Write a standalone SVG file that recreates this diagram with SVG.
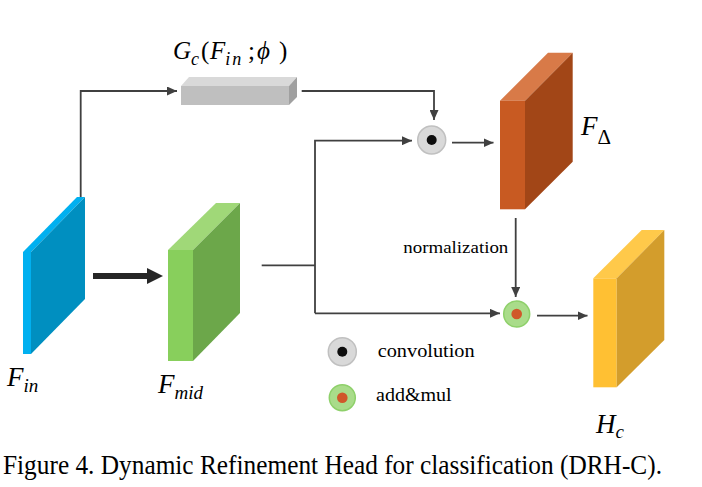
<svg xmlns="http://www.w3.org/2000/svg" width="702" height="487" viewBox="0 0 702 487">
<style>
.c{fill:none;stroke:#404040;stroke-width:1.8}
.a{marker-end:url(#ah)}
.m{font-family:"Liberation Serif",serif;font-style:italic;fill:#000}
.u{font-family:"Liberation Serif",serif;fill:#000}
</style>
<defs>
<marker id="ah" viewBox="0 0 10 9" refX="10" refY="4.5" markerUnits="userSpaceOnUse" markerWidth="10" markerHeight="9" orient="auto">
<path d="M0,0 L10,4.5 L0,9 z" fill="#404040"/>
</marker>
</defs>
<rect width="702" height="487" fill="#fff"/>

<g id="connectors">
<path class="c a" d="M80.7,197 V91 H177"/>
<path class="c a" d="M301.7,91 H434 V120"/>
<path class="c" d="M261.7,265.3 H315"/>
<path class="c a" d="M315,313.3 V140.7 H412"/>
<path class="c a" d="M315,313.3 H500"/>
<path class="c a" d="M452,142.7 H493.5"/>
<path class="c a" d="M515.7,218 V297"/>
<path class="c a" d="M537,315.7 H587.5"/>
<line x1="93" y1="276" x2="150" y2="276" stroke="#262626" stroke-width="6"/>
<polygon points="147,268 163,276 147,284" fill="#262626"/>
</g>

<g id="F_in">
<polygon points="23,252 77,197 85,197 31,252" fill="#00B0F0"/>
<rect x="23" y="252" width="8" height="102" fill="#00B0F0"/>
<polygon points="31,252 85,197 85,299 31,354" fill="#008FC0"/>
<text class="m" x="7" y="386" font-size="27">F<tspan font-size="19" dy="6">in</tspan></text>
</g>

<g id="F_mid">
<polygon points="168,250 216,203 240,203 193,250" fill="#A0D878"/>
<rect x="168" y="250" width="25" height="111" fill="#88CF5C"/>
<polygon points="193,250 240,203 240,313 193,361" fill="#6CA74A"/>
<text class="m" x="158" y="393" font-size="27">F<tspan font-size="19" dy="6">mid</tspan></text>
</g>

<g id="G_c">
<polygon points="181,86 189,77 297,77 289,86" fill="#D9D9D9"/>
<rect x="181" y="86" width="108" height="19" fill="#BFBFBF"/>
<polygon points="289,86 297,77 297,97 289,105" fill="#A0A0A0"/>
<text class="m" x="173" y="59" font-size="25">G<tspan font-size="18" dy="6">c</tspan><tspan font-style="normal" font-size="25" dy="-6" x="201">(</tspan><tspan x="210">F</tspan><tspan font-size="18" dy="6" letter-spacing="2">in</tspan><tspan font-style="normal" font-size="25" dy="-6" x="248">;</tspan><tspan x="257">ϕ</tspan><tspan font-style="normal" x="279">)</tspan></text>
</g>

<g id="conv">
<circle cx="431.7" cy="140" r="14" fill="#D9D9D9" stroke="#C0C0C0" stroke-width="1.5"/>
<circle cx="431.7" cy="140" r="5" fill="#0D0D0D"/>
</g>

<g id="F_delta">
<polygon points="500,100.7 548,52.7 572.7,52.7 525,100.7" fill="#D87A48"/>
<rect x="500" y="100.7" width="25" height="108.6" fill="#C85A22"/>
<polygon points="525,100.7 572.7,52.7 572.7,161.7 525,209.3" fill="#A24617"/>
<text class="m" x="581" y="135" font-size="27">F<tspan class="u" font-style="normal" font-size="21" dy="9">Δ</tspan></text>
</g>

<g id="normalization_label">
<text class="u" x="403.3" y="253" font-size="17" textLength="105" lengthAdjust="spacingAndGlyphs">normalization</text>
</g>

<g id="addmul">
<circle cx="516.7" cy="314" r="13" fill="#A9DC8A" stroke="#8ED06A" stroke-width="1.5"/>
<circle cx="516.7" cy="314" r="5.3" fill="#D0582A"/>
</g>

<g id="H_c">
<polygon points="593.3,278.3 641.7,230 664.3,230 616.7,278.3" fill="#FFC94A"/>
<rect x="593.3" y="278.3" width="23.4" height="109" fill="#FFC033"/>
<polygon points="616.7,278.3 664.3,230 664.3,340 616.7,387.3" fill="#D39D2C"/>
<text class="m" x="596" y="433" font-size="27">H<tspan font-size="19" dy="5">c</tspan></text>
</g>

<g id="legend">
<circle cx="342.3" cy="351.7" r="14" fill="#D9D9D9" stroke="#C0C0C0" stroke-width="1.5"/>
<circle cx="342.3" cy="351.7" r="5" fill="#0D0D0D"/>
<text class="u" x="377.7" y="356.7" font-size="18" textLength="97" lengthAdjust="spacingAndGlyphs">convolution</text>
<circle cx="342.3" cy="397.7" r="13" fill="#A9DC8A" stroke="#8ED06A" stroke-width="1.5"/>
<circle cx="342.3" cy="397.7" r="5.3" fill="#D0582A"/>
<text class="u" x="376" y="400.7" font-size="18" textLength="75.7" lengthAdjust="spacingAndGlyphs">add&amp;mul</text>
</g>

<g id="caption">
<text class="u" transform="translate(3,474) scale(1,1.12)" x="0" y="0" font-size="24" textLength="659" lengthAdjust="spacingAndGlyphs">Figure 4. Dynamic Refinement Head for classification (DRH-C).</text>
</g>
</svg>
